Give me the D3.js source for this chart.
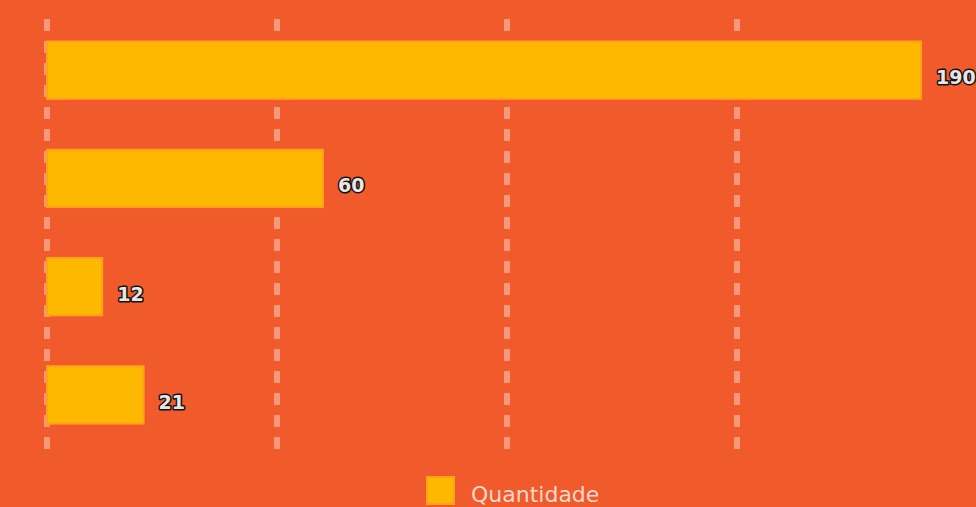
<!DOCTYPE html>
<html>
<head>
<meta charset="utf-8">
<script src="https://cdn.jsdelivr.net/npm/d3@7"></script>
<style>
html,body{margin:0;padding:0;background:#F15A2B;}
svg{display:block;}
</style>
</head>
<body>
<script>
const categories = ["Categoria 1", "Categoria 2", "Categoria 3", "Categoria 4"];
const values = [190, 60, 12, 21];
const seriesName = "Quantidade";
const gridTicks = [0, 50, 100, 150];

const W = 976, H = 507;
const svg = d3.select("body").append("svg").attr("width", W).attr("height", H);
svg.append("rect").attr("width", W).attr("height", H).attr("fill", "#F15A2B");

const x = d3.scaleLinear().domain([0, 190]).range([47, 921]);
const y = d3.scaleBand().domain(categories).range([16, 449]).paddingInner(0.47).paddingOuter(0.235);

// gridlines
svg.append("g").selectAll("line").data(gridTicks).join("line")
  .attr("x1", d => x(d)).attr("x2", d => x(d))
  .attr("y1", 19).attr("y2", 451)
  .attr("stroke", "rgba(255,255,255,0.38)")
  .attr("stroke-width", 6)
  .attr("stroke-dasharray", "12,10");

// bars
svg.append("g").selectAll("rect").data(values).join("rect")
  .attr("x", x(0))
  .attr("y", (d, i) => y(categories[i]))
  .attr("width", d => x(d) - x(0))
  .attr("height", y.bandwidth())
  .attr("fill", "#FFB800")
  .attr("stroke", "#FFA21A")
  .attr("stroke-width", 2);

// value labels
svg.append("g").selectAll("text").data(values).join("text")
  .attr("x", d => x(d) + 15)
  .attr("y", (d, i) => y(categories[i]) + y.bandwidth() / 2 + 14)
  .attr("font-family", "DejaVu Sans, sans-serif")
  .attr("font-weight", "bold")
  .attr("font-size", 19)
  .attr("fill", "#E6E6E6")
  .attr("stroke", "#111")
  .attr("stroke-width", 3)
  .attr("paint-order", "stroke")
  .attr("stroke-linejoin", "round")
  .text(d => d);

// legend
const lg = svg.append("g");
lg.append("rect").attr("x", 427).attr("y", 477).attr("width", 27).attr("height", 27)
  .attr("fill", "#FFB800").attr("stroke", "#FFA21A").attr("stroke-width", 2);
lg.append("text").attr("x", 471).attr("y", 502)
  .attr("font-family", "DejaVu Sans, sans-serif")
  .attr("font-size", 22)
  .attr("fill", "#FDD8CB")
  .text(seriesName);
</script>
</body>
</html>
